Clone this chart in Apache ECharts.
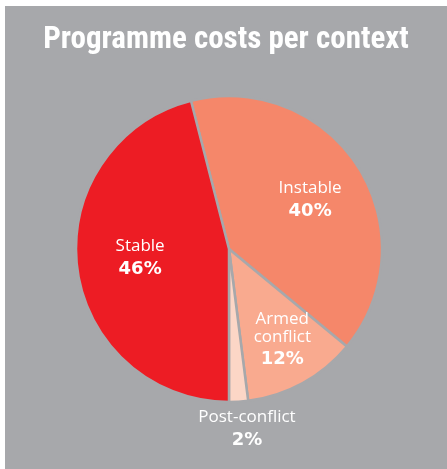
<!DOCTYPE html>
<html>
<head>
<meta charset="utf-8">
<script src="https://cdn.jsdelivr.net/npm/echarts@6/dist/echarts.min.js"></script>
<style>
  html, body { margin: 0; padding: 0; background: #ffffff; }
  #panel { position: absolute; left: 5px; top: 6px; width: 442px; height: 463px; background: #a7a8ab; }
  #chart { width: 442px; height: 463px; }
</style>
</head>
<body>
<div id="panel"><div id="chart"></div></div>
<script>
// Programme costs split by operating context (percent of total)
const contexts = ['Instable', 'Armed\nconflict', 'Post-conflict', 'Stable'];
const shares = [40, 12, 2, 46];
const sliceColors = ['#f5876a', '#f9aa8f', '#fcd6c6', '#ed1c24'];

// label nudges away from the default inside position
const labelShift = [[14, -4], [15, 23], [13, 103], [-10, 1]];

const chart = echarts.init(document.getElementById('chart'), null, { renderer: 'canvas' });

chart.setOption({
  backgroundColor: 'transparent',
  animation: false,
  title: {
    text: 'Programme costs per context',
    left: 'center',
    top: 14,
    textStyle: {
      color: '#ffffff',
      fontFamily: '"Liberation Sans Narrow", "Roboto Condensed", "Liberation Sans", sans-serif',
      fontWeight: 'bold',
      fontSize: 31
    }
  },
  series: [{
    type: 'pie',
    center: [224, 243],
    radius: [0, 153],
    startAngle: 104.4,
    clockwise: true,
    itemStyle: { borderColor: '#a7a8ab', borderWidth: 2.5 },
    emphasis: { disabled: true },
    labelLine: { show: false },
    label: {
      show: true,
      position: 'inside',
      formatter: p => '{n|' + p.name + '}\n{v|' + p.value + '%}',
      rich: {
        n: { color: '#ffffff', fontFamily: '"Open Sans", "Liberation Sans", sans-serif', fontSize: 17, lineHeight: 18, align: 'center' },
        v: { color: '#ffffff', fontFamily: '"DejaVu Sans", sans-serif', fontWeight: 'bold', fontSize: 18, lineHeight: 28, align: 'center' }
      }
    },
    labelLayout: p => ({ dx: labelShift[p.dataIndex][0], dy: labelShift[p.dataIndex][1] }),
    data: contexts.map((c, i) => ({ name: c, value: shares[i], itemStyle: { color: sliceColors[i] } }))
  }]
});
</script>
</body>
</html>
